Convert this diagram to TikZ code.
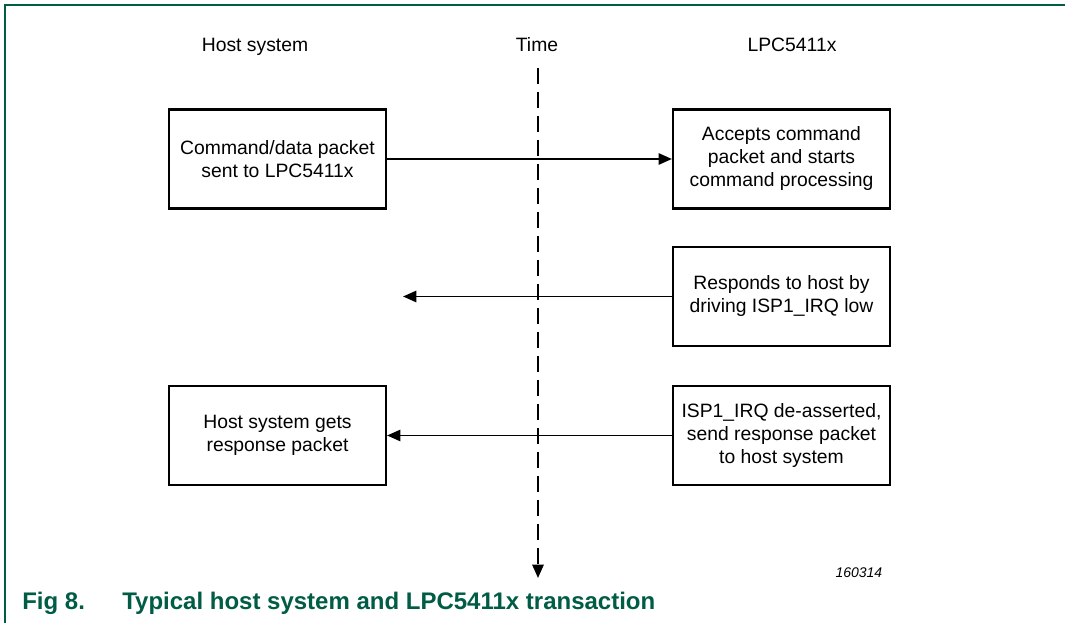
\documentclass[tikz,border=0pt]{standalone}
\usepackage{fontspec}
\setmainfont{Liberation Sans}
\usetikzlibrary{arrows.meta}
\definecolor{nxpgreen}{HTML}{005C45}
\begin{document}
\begin{tikzpicture}[
            x=0.75pt, y=-0.75pt,
            every node/.style={font=\fontsize{14.5}{17.25}\selectfont},
            box/.style={draw, line width=1.6pt, align=center,
                minimum width=162.75pt, minimum height=74.25pt, inner sep=2pt},
            header/.style={anchor=base},
            msgarrow/.style={line width=1.3pt, -{Triangle[length=10pt,width=8.5pt]}},
            timeline/.style={line width=1.3pt, dash pattern=on 12pt off 6pt,
                -{Triangle[length=10pt,width=8.5pt]}}
        ]
        \useasboundingbox (0,0) rectangle (1065,623);
        % frame
        \draw[nxpgreen, line width=1.5pt] (5,623) -- (5,5) -- (1065,5);

        % column headers
        \node[header] (hosthdr) at (255,52) {Host system};
        \node[header] (timehdr) at (537,52) {Time};
        \node[header] (lpchdr) at (792,52) {LPC5411x};

        % time axis
        \coordinate (timetop) at (538,68);
        \coordinate (timebot) at (538,578);
        \draw[timeline] (timetop) -- (timebot);

        % boxes
        \node[box] (cmdbox) at (277.5,159) {Command/data packet\\sent to LPC5411x};
        \node[box] (acceptbox) at (781.5,159) {Accepts command\\packet and starts\\command processing};
        \node[box] (irqbox) at (781.5,296.5) {Responds to host by\\driving ISP1\_IRQ low};
        \node[box] (gotbox) at (277.5,435.5) {Host system gets\\response packet};
        \node[box] (sendbox) at (781.5,435.5) {ISP1\_IRQ de-asserted,\\send response packet\\to host system};

        % messages
        \coordinate (irqend) at (403,296.5);
        \draw[msgarrow] (cmdbox) -- (acceptbox);
        \draw[msgarrow] (irqbox) -- (irqend);
        \draw[msgarrow] (sendbox) -- (gotbox);

        % figure id and caption
        \node[anchor=east, font=\fontsize{10.5}{12}\selectfont\itshape] (figid) at (887,573) {160314};
        \node[anchor=base west, inner sep=0pt, text=nxpgreen,
            font=\fontsize{18}{21}\selectfont\bfseries] (figno) at (22,610) {Fig 8.};
        \node[anchor=base west, inner sep=0pt, text=nxpgreen,
            font=\fontsize{18}{21}\selectfont\bfseries] (figtitle) at (122,610)
            {Typical host system and LPC5411x transaction};
    \end{tikzpicture}
\end{document}
